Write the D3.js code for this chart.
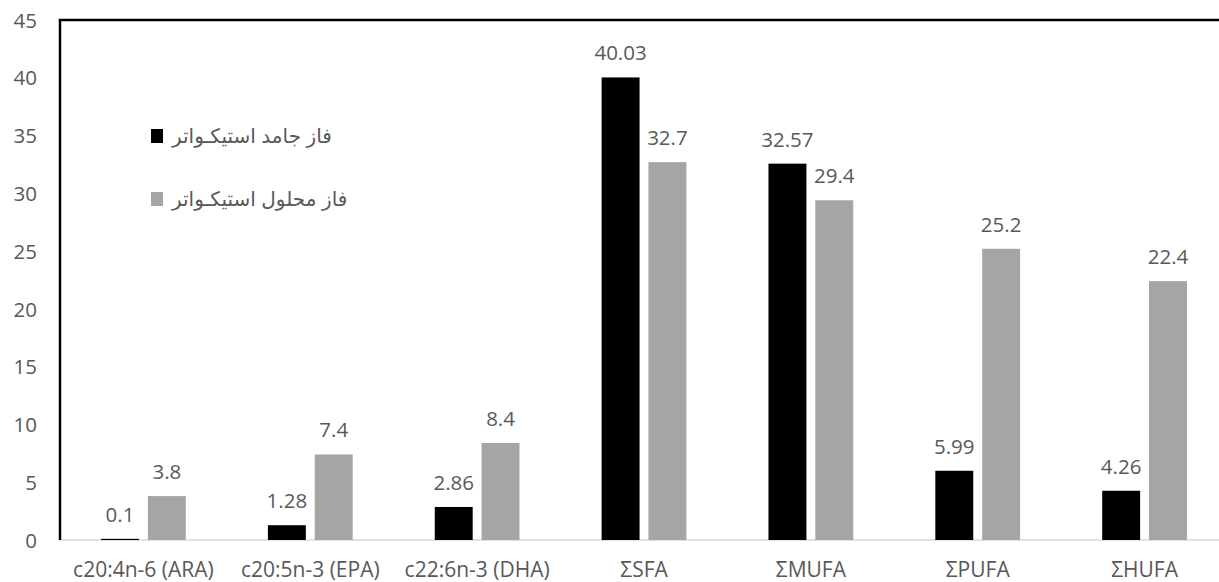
<!DOCTYPE html>
<html>
<head>
<meta charset="utf-8">
<script src="https://cdn.jsdelivr.net/npm/d3@7"></script>
<style>
  html, body { margin: 0; padding: 0; background: #fff; }
  svg { display: block; }
  .tick text, .cat, .val { font-family: "Open Sans", sans-serif; fill: #595959; }
</style>
</head>
<body>
<svg id="chart" width="1219" height="582"></svg>
<script>
// Fatty acid groups (x categories)
const categories = ["c20:4n-6 (ARA)", "c20:5n-3 (EPA)", "c22:6n-3 (DHA)", "ΣSFA", "ΣMUFA", "ΣPUFA", "ΣHUFA"];
// Solid phase (black) and solution phase (gray)
const solidValues = [0.1, 1.28, 2.86, 40.03, 32.57, 5.99, 4.26];
const solutionValues = [3.8, 7.4, 8.4, 32.7, 29.4, 25.2, 22.4];
const seriesNames = ["فاز جامد استیکـواتر", "فاز محلول استیکـواتر"];
const seriesColors = ["#000000", "#a5a5a5"];
const yTicks = [0, 5, 10, 15, 20, 25, 30, 35, 40, 45];

const svg = d3.select("#chart");
const plotLeft = 60, plotTop = 20, plotBottom = 540, plotRight = 1228;

const x0 = d3.scaleBand().domain(categories).range([plotLeft, plotRight]).padding(0);
const x1 = d3.scaleBand().domain([0, 1])
  .range([x0.step() * 0.246, x0.step() * 0.754]).paddingInner(0.19).paddingOuter(0);
const y = d3.scaleLinear().domain([0, 45]).range([plotBottom, plotTop]);

const rows = categories.map((c, i) => ({ cat: c, vals: [solidValues[i], solutionValues[i]] }));

// baseline
svg.append("line")
  .attr("x1", plotLeft).attr("x2", 1219).attr("y1", y(0)).attr("y2", y(0))
  .attr("stroke", "#d9d9d9").attr("stroke-width", 1.5);

// bars
const groups = svg.selectAll("g.grp").data(rows).join("g")
  .attr("class", "grp")
  .attr("transform", d => `translate(${x0(d.cat)},0)`);

groups.selectAll("rect").data(d => d.vals.map((v, k) => ({ v, k }))).join("rect")
  .attr("x", d => x1(d.k))
  .attr("width", x1.bandwidth())
  .attr("y", d => y(d.v))
  .attr("height", d => y(0) - y(d.v))
  .attr("fill", d => seriesColors[d.k]);

groups.selectAll("text.val").data(d => d.vals.map((v, k) => ({ v, k }))).join("text")
  .attr("class", "val")
  .attr("x", d => x1(d.k) + x1.bandwidth() / 2)
  .attr("y", d => y(d.v) - 17)
  .attr("text-anchor", "middle")
  .attr("font-size", 20.5)
  .text(d => d.v);

// y axis labels
const yAxis = d3.axisLeft(y).tickValues(yTicks).tickSize(0).tickPadding(23);
const gy = svg.append("g").attr("transform", `translate(${plotLeft},0)`).call(yAxis);
gy.select(".domain").remove();
gy.selectAll(".tick text").attr("font-size", 20.5).attr("dy", "0.35em");

// x category labels
svg.selectAll("text.cat").data(categories).join("text")
  .attr("class", "cat")
  .attr("x", d => x0(d) + x0.bandwidth() / 2)
  .attr("y", 577)
  .attr("text-anchor", "middle")
  .attr("font-size", 21)
  .text(d => d);

// frame lines: left and top
svg.append("line")
  .attr("x1", plotLeft).attr("x2", plotLeft).attr("y1", plotTop).attr("y2", y(0))
  .attr("stroke", "#000").attr("stroke-width", 2.5);
svg.append("line")
  .attr("x1", plotLeft - 1.25).attr("x2", 1219).attr("y1", plotTop).attr("y2", plotTop)
  .attr("stroke", "#000").attr("stroke-width", 2.5);

// legend
const legend = svg.append("g");
seriesNames.forEach((name, i) => {
  const ly = 136 + i * 63;
  legend.append("rect")
    .attr("x", 151).attr("y", ly - 7).attr("width", 12).attr("height", 14)
    .attr("fill", seriesColors[i]);
  legend.append("text")
    .attr("x", 172).attr("y", ly + 7)
    .attr("font-family", "'Liberation Sans', 'DejaVu Sans', sans-serif")
    .attr("font-size", 20)
    .attr("fill", "#595959")
    .text(name);
});
</script>
</body>
</html>
